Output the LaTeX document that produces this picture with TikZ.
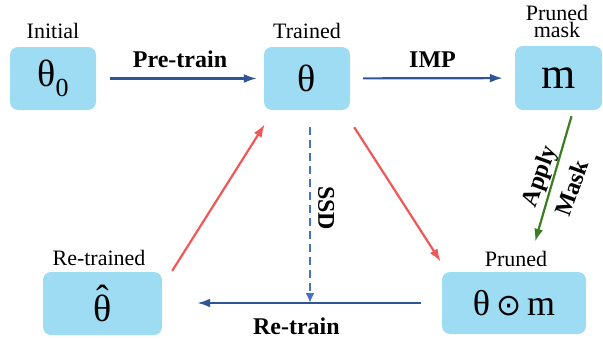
\documentclass[tikz,border=0pt]{standalone}
\usepackage{fontspec}
\setmainfont{Liberation Serif}
\newfontfamily\opfont{DejaVu Sans}
\usetikzlibrary{arrows.meta}
\definecolor{boxfill}{RGB}{157,220,243}
\definecolor{flowblue}{RGB}{47,85,151}
\definecolor{dashblue}{RGB}{68,114,196}
\definecolor{flowred}{RGB}{240,88,88}
\definecolor{flowgreen}{RGB}{60,125,34}
\tikzset{
  statebox/.style={fill=boxfill, rounded corners=8pt, minimum height=63pt, inner sep=0pt},
  statecap/.style={font=\fontsize{22}{17}\selectfont, anchor=base, align=center, inner sep=0pt},
  edgetag/.style={font=\fontsize{24}{24}\bfseries\selectfont, inner sep=0pt},
  bluearrow/.style={draw=flowblue, line width=2.2pt, -{Latex[length=13pt,width=9pt]}},
  redarrow/.style={draw=flowred, line width=2.2pt, -{Latex[length=13pt,width=9pt]}},
  greenarrow/.style={draw=flowgreen, line width=2.2pt, -{Latex[length=13pt,width=9pt]}},
  dasharrow/.style={draw=dashblue, line width=2.2pt, dash pattern=on 8pt off 5pt, -{Latex[length=10pt,width=9pt]}},
}
\begin{document}
\begin{tikzpicture}[x=1pt,y=-1pt]
\useasboundingbox (0,0) rectangle (603,340);

% parameter states
\node[statebox, minimum width=86pt] (th0) at (53,78.5)
  {\fontsize{38}{38}\selectfont θ\raisebox{-10pt}{\fontsize{26}{26}\selectfont 0}};
\node[statebox, minimum width=86pt] (th) at (307,78.5)
  {\fontsize{38}{38}\selectfont θ};
\node[statebox, minimum width=87pt, minimum height=64pt] (m) at (558.5,78)
  {\fontsize{44}{44}\selectfont m};
\node[statebox, minimum width=144pt, minimum height=62pt] (pr) at (514,303)
  {\fontsize{36}{36}\selectfont θ\,{\opfont\fontsize{30}{30}\selectfont ⊙}\,m};
\node[statebox, minimum width=119pt] (rt) at (102.5,303.5)
  {\fontsize{38}{38}\selectfont \accent"02C6 θ};

% captions above the states
\node[statecap] (cInit) at (53,38) {Initial};
\node[statecap] (cTrain) at (307,38) {Trained};
\node[statecap] (cMask) at (557,37) {Pruned\\mask};
\node[statecap] (cPruned) at (516,266) {Pruned};
\node[statecap] (cRetrain) at (99,265) {Re-trained};

% horizontal flow
\draw[bluearrow, shorten <=14pt, shorten >=7pt] (th0) -- (th)
  node[edgetag, midway, above=10pt] (lPre) {Pre-train};
\draw[bluearrow, shorten <=13pt, shorten >=12pt] (th) -- (m)
  node[edgetag, midway, above=10pt] (lImp) {IMP};
\draw[bluearrow, shorten <=21pt, shorten >=35pt] (pr.west) -- (rt.east |- pr.west)
  node[edgetag, pos=0.52, below=14pt] (lRe) {Re-train};

% diagonal and vertical transitions
\coordinate (gA) at ([shift={(13,6)}]m.south);
\coordinate (gB) at ([shift={(21,-30)}]pr.north);
\draw[greenarrow] (gA) -- (gB);
\node[edgetag, rotate=70, align=center] (lApply) at (555,182) {Apply\\[12pt]Mask};

\coordinate (rA) at ([shift={(4,17)}]th.south east);
\coordinate (rB) at ([shift={(-1,-10)}]pr.north west);
\draw[redarrow] (rA) -- (rB);

\coordinate (rC) at ([shift={(10,-1)}]rt.north east);
\coordinate (rD) at ([shift={(1,14)}]th.south west);
\draw[redarrow] (rC) -- (rD);

\coordinate (sA) at ([shift={(3,17)}]th.south);
\coordinate (sB) at ([xshift=3pt]th.south |- pr.west);
\draw[dasharrow] (sA) -- (sB)
  node[edgetag, pos=0.46, xshift=7pt, rotate=-90, anchor=south] (lSsd) {SSD};
\end{tikzpicture}
\end{document}
